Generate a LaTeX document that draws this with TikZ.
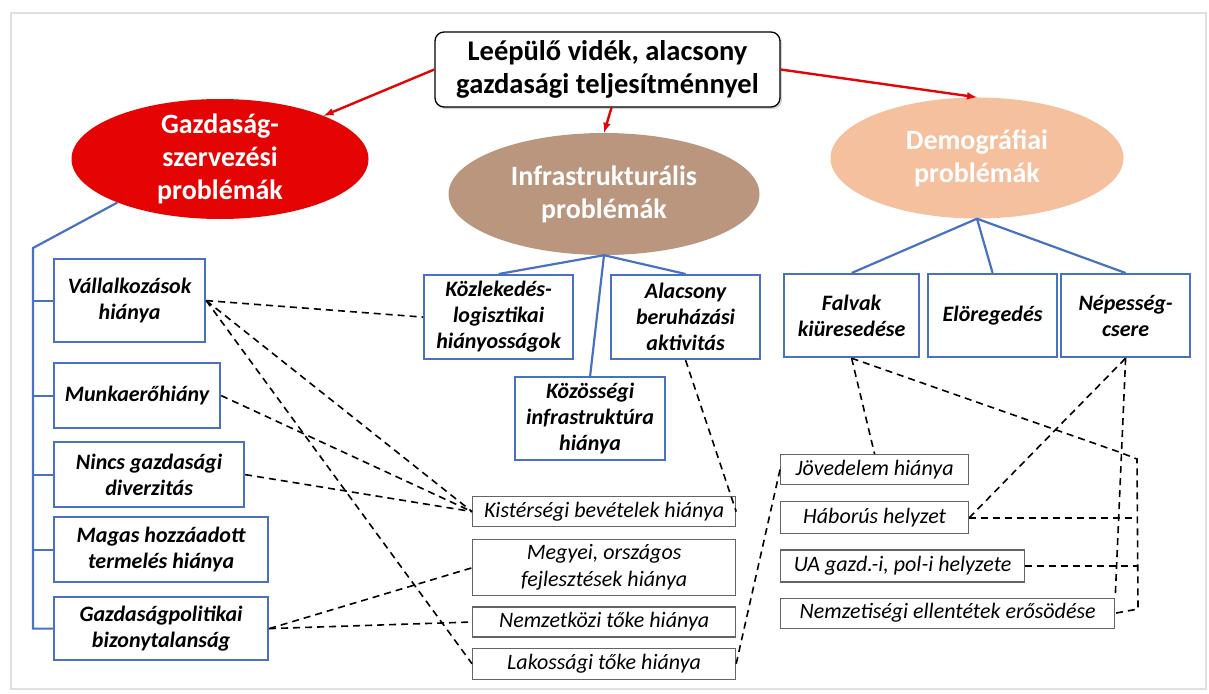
\documentclass[tikz,border=0pt]{standalone}
\usepackage{fontspec}
\setmainfont{Carlito}
\usetikzlibrary{positioning, shapes.geometric, shadows}

\definecolor{rouge}{RGB}{228,4,4}
\definecolor{brun}{RGB}{186,150,127}
\definecolor{peche}{RGB}{245,192,157}
\definecolor{bleu}{RGB}{72,114,192}
\definecolor{gris}{RGB}{100,100,100}

\begin{document}
\begin{tikzpicture}[x=1pt, y=-1pt,
    titre/.style={draw, rounded corners=9pt, line width=1.3pt, fill=white, align=center,
        font=\bfseries\fontsize{28.5}{33}\selectfont,
        drop shadow={opacity=0.35, shadow xshift=2pt, shadow yshift=-2pt}},
    theme/.style={ellipse, draw=none, text=white, align=center, inner xsep=0pt, inner ysep=-16pt,
        font=\bfseries\fontsize{28}{33}\selectfont},
    bleubox/.style={draw=bleu, line width=2.2pt, align=center, anchor=north west, inner sep=2pt,
        font=\bfseries\itshape\fontsize{22}{26}\selectfont},
    grisbox/.style={draw=gris, line width=1.2pt, align=center, anchor=north west, inner xsep=4pt, inner ysep=1pt,
        font=\itshape\fontsize{22}{27}\selectfont},
    fleche/.style={-latex, draw=rouge, line width=2.4pt},
    lien/.style={draw=bleu, line width=2.2pt},
    pointille/.style={draw, dash pattern=on 7pt off 5pt, line width=1.6pt}]

    \useasboundingbox (0,0) rectangle (1209,693);
    \draw[black!12, line width=2.5pt] (11,13) rectangle (1206,689);

    % Titre et grands thèmes
    \node[titre, minimum width=345, minimum height=75] (titre) at (607.5,69.5)
        {Leépülő vidék, alacsony\\gazdasági teljesítménnyel};
    \node[theme, fill=rouge, minimum width=297, minimum height=120] (gazd) at (220,159)
        {Gazdaság-\\szervezési\\problémák};
    \node[theme, fill=brun, minimum width=311, minimum height=122] (infra) at (604,194)
        {Infrastrukturális\\problémák};
    \node[theme, fill=peche, minimum width=293, minimum height=121] (demo) at (977,158)
        {Demográfiai\\problémák};

    % Problèmes économiques
    \node[bleubox, minimum width=151, minimum height=83] (vall) at (53,258) {Vállalkozások\\hiánya};
    \node[bleubox, minimum width=166, minimum height=65] (munka) at (53,362) {Munkaerőhiány};
    \node[bleubox, minimum width=190, minimum height=65] (nincs) at (53,441) {Nincs gazdasági\\diverzitás};
    \node[bleubox, minimum width=214, minimum height=65] (magas) at (53,516) {Magas hozzáadott\\termelés hiánya};
    \node[bleubox, minimum width=214, minimum height=63] (gpol) at (53,596) {Gazdaságpolitikai\\bizonytalanság};

    % Problèmes d'infrastructure
    \node[bleubox, minimum width=149, minimum height=84] (kozl) at (423,274) {Közlekedés-\\logisztikai\\hiányosságok};
    \node[bleubox, minimum width=149, minimum height=84] (alac) at (610,274) {Alacsony\\beruházási\\aktivitás};
    \node[bleubox, minimum width=150, minimum height=83] (kozos) at (514,376) {Közösségi\\infrastruktúra\\hiánya};

    % Problèmes démographiques
    \node[bleubox, minimum width=135, minimum height=83] (falv) at (783,273) {Falvak\\kiüresedése};
    \node[bleubox, minimum width=129, minimum height=83] (elor) at (927,273) {Elöregedés};
    \node[bleubox, minimum width=129, minimum height=83] (nep) at (1060,273) {Népesség-\\csere};

    % Conséquences
    \node[grisbox, minimum width=263, minimum height=30] (kist) at (472,496) {Kistérségi bevételek hiánya};
    \node[grisbox, minimum width=263, minimum height=56, below=12pt of kist.south west, anchor=north west] (megy)
        {Megyei, országos\\fejlesztések hiánya};
    \node[grisbox, minimum width=263, minimum height=30, below=10pt of megy.south west, anchor=north west] (nemzk)
        {Nemzetközi tőke hiánya};
    \node[grisbox, minimum width=263, minimum height=31, below=10pt of nemzk.south west, anchor=north west] (lakos)
        {Lakossági tőke hiánya};

    \node[grisbox, minimum width=188, minimum height=30] (jov) at (780,454) {Jövedelem hiánya};
    \node[grisbox, minimum width=188, minimum height=32, below=16pt of jov.south west, anchor=north west] (hab)
        {Háborús helyzet};
    \node[grisbox, minimum width=244, minimum height=32, below=15pt of hab.south west, anchor=north west] (ua)
        {UA gazd.-i, pol-i helyzete};
    \node[grisbox, minimum width=334, minimum height=30, below=15pt of ua.south west, anchor=north west] (nemzet)
        {Nemzetiségi ellentétek erősödése};

    % Flèches rouges
    \draw[fleche] (titre.west) -- (gazd);
    \draw[fleche] ([xshift=4]titre.south) -- (infra.north);
    \draw[fleche] (titre.east) -- (demo.north);

    % Liens bleus
    \coordinate (tronc) at (33,248);
    \draw[lien] (gazd.203) -- (tronc) |- (gpol.west);
    \foreach \b in {vall, munka, nincs, magas}
        \draw[lien] (tronc |- \b.west) -- (\b.west);
    \foreach \b in {kozl, alac, kozos}
        \draw[lien] (infra.south) -- (\b.north);
    \foreach \b in {falv, elor, nep}
        \draw[lien] (demo.south) -- (\b.north);

    % Liens en pointillés
    \draw[pointille] (vall.east) -- (kozl.west);
    \draw[pointille] (vall.east) -- (kist.west);
    \draw[pointille] (vall.east) -- (lakos.west);
    \draw[pointille] (munka.east) -- (kist.west);
    \draw[pointille] (nincs.east) -- (kist.west);
    \draw[pointille] (gpol.east) -- (megy.west);
    \draw[pointille] (gpol.east) -- (nemzk.west);
    \draw[pointille] (alac.south) -- (kist.east);
    \draw[pointille] (lakos.east) -- (jov.west);

    \coordinate (c1) at (1119,452);
    \coordinate (c2) at (1137,459);
    \coordinate (c3) at (1138,609);
    \draw[pointille] (falv.south) -- (jov.north);
    \draw[pointille] (falv.south) -- (c1) -- (c2) -- (c3) -- (nemzet.east);
    \draw[pointille] (hab.east) -- (nep.south);
    \draw[pointille] (nep.south) -- (nemzet.north east);
    \draw[pointille] (hab.east) -- (c3 |- hab.east);
    \draw[pointille] (ua.east) -- (c3 |- ua.east);

\end{tikzpicture}
\end{document}
